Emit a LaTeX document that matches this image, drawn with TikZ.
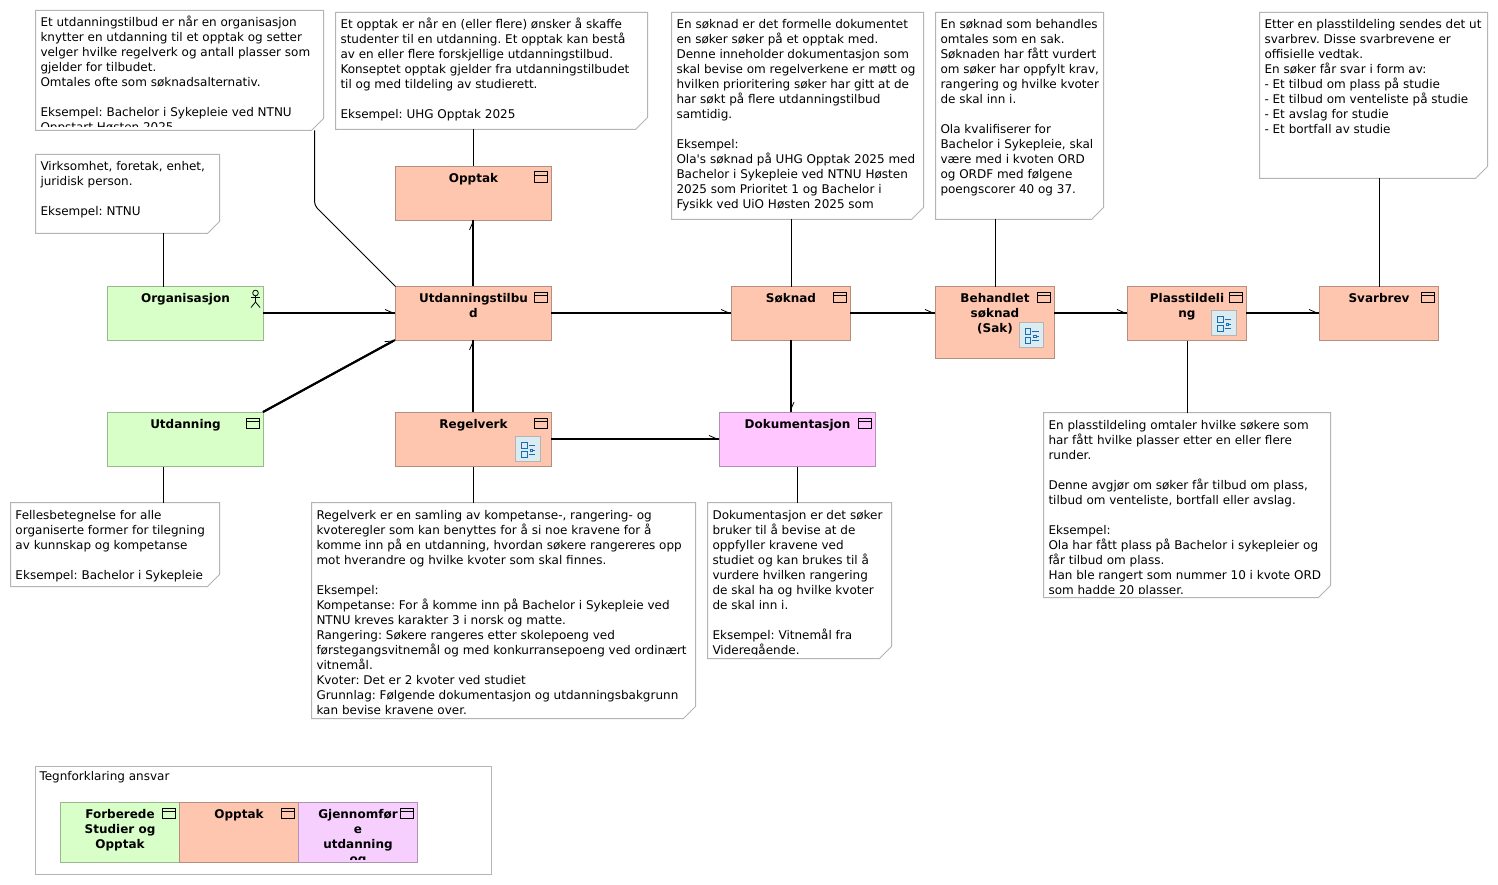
\documentclass[tikz,border=0pt]{standalone}
\usepackage{fontspec}
\setmainfont{DejaVu Sans}
\usepackage{tikz}
\usetikzlibrary{arrows.meta}
\definecolor{opptakfill}{HTML}{FFC6AF}
\definecolor{opptakline}{HTML}{B58E80}
\definecolor{forbfill}{HTML}{D9FFC9}
\definecolor{forbline}{HTML}{9AB78F}
\definecolor{dokfill}{HTML}{FFC6FF}
\definecolor{dokline}{HTML}{B58EB5}
\definecolor{gjenfill}{HTML}{F7CFFF}
\definecolor{gjenline}{HTML}{AE93B5}
\definecolor{notegray}{HTML}{B4B4B4}
\definecolor{iconfill}{HTML}{DCEBEF}
\definecolor{iconblue}{HTML}{1170B8}

% name, left, top, right, bottom, text
\newcommand{\notebox}[6]{
  \node[notearea, minimum width={(#4-#2)*1pt}, minimum height={(#5-#3)*1pt}] (#1) at ({(#2+#4)/2},{(#3+#5)/2}) {};
  \draw[noteline] (#2,#3) -- (#4,#3) -- (#4,#5-12) -- (#4-12,#5) -- (#2,#5) -- cycle;
  \begin{scope}
    \clip (#2,#3) rectangle (#4,#5-4);
    \node[notetext] at (#2+4.5,#3+4) {\rule{0pt}{12pt}#6};
  \end{scope}
}
% name, style, left, top, right, bottom, text
\newcommand{\elementbox}[7]{
  \node[#2, minimum width={(#5-#3)*1pt}, minimum height={(#6-#4)*1pt}] (#1) at ({(#3+#5)/2},{(#4+#6)/2}) {};
  \begin{scope}
    \clip (#3,#4) rectangle (#5,#6-3);
    \node[elemtext] at ({(#3+#5)/2},#4+3.5) {\rule{0pt}{12pt}#7};
  \end{scope}
}

\begin{document}
\frenchspacing
\begin{tikzpicture}[x=1pt, y=-1pt, line width=1pt,
    notearea/.style = {inner sep=0pt, outer sep=0pt},
    noteline/.style = {draw=notegray, fill=white},
    notetext/.style = {anchor=north west, inner sep=0pt, align=left, font=\fontsize{12}{15}\selectfont},
    elemtext/.style = {anchor=north, inner sep=0pt, align=center, font=\fontsize{12}{15}\selectfont\bfseries},
    opptak/.style = {draw=opptakline, fill=opptakfill, inner sep=0pt, outer sep=0pt},
    forb/.style = {draw=forbline, fill=forbfill, inner sep=0pt, outer sep=0pt},
    dok/.style = {draw=dokline, fill=dokfill, inner sep=0pt, outer sep=0pt},
    gjen/.style = {draw=gjenline, fill=gjenfill, inner sep=0pt, outer sep=0pt},
    flow/.style = {line width=2pt, transform canvas={shift={(-.5pt,.5pt)}}, -{Straight Barb[harpoon, length=8pt, width=7pt, line width=.8pt]}, postaction={draw, -}},
    link/.style = {line width=1pt},
    windowicon/.pic = {
      \draw[line width=1pt] (-17.5,5.5) rectangle (-4,16);
      \draw[line width=1pt] (-17.5,8.8) -- (-4,8.8);
    },
    actoricon/.pic = {
      \draw[line width=.8pt] (-8,6.5) circle (2.8);
      \draw[line width=.8pt] (-8,9.3) -- (-8,15.5) -- (-12.5,21);
      \draw[line width=.8pt] (-8,15.5) -- (-3.5,21);
      \draw[line width=.8pt] (-12.5,11) -- (-3.5,11);
    },
    detailicon/.pic = {
      \draw[draw=notegray, fill=iconfill] (0,0) rectangle (24.5,24.5);
      \draw[draw=iconblue, line width=.8pt] (6,6) rectangle (11.5,11.5) (6,15) rectangle (11.5,20.5);
      \draw[draw=iconblue, line width=.8pt] (13,9) -- (19.5,9) (13,18) -- (19.5,18);
      \draw[draw=iconblue, line width=.8pt] (14.5,12.5) rectangle (17,15) (17,13.7) -- (19.5,13.7);
    }]
  \useasboundingbox (0,0) rectangle (1498,885);
  \fill[white] (0,0) rectangle (1498,885);

  \begin{scope}[shift={(.5,.5)}]
  \elementbox{organisasjon}{forb}{107}{286}{263}{340}{Organisasjon}
  \elementbox{utdanning}{forb}{107}{412}{263}{466}{Utdanning}
  \elementbox{opptak}{opptak}{395}{166}{551}{220}{Opptak}
  \elementbox{tilbud}{opptak}{395}{286}{551}{340}{Utdanningstilbu\\d}
  \elementbox{regelverk}{opptak}{395}{412}{551}{466}{Regelverk}
  \elementbox{soknad}{opptak}{731}{286}{850}{340}{Søknad}
  \elementbox{dokumentasjon}{dok}{719}{412}{875}{466}{Dokumentasjon}
  \elementbox{behandlet}{opptak}{935}{286}{1054}{358}{Behandlet\\søknad\\(Sak)}
  \elementbox{plass}{opptak}{1127}{286}{1246}{340}{Plasstildeli\\ng}
  \elementbox{svarbrev}{opptak}{1319}{286}{1438}{340}{Svarbrev}

  \path (263,286) pic {actoricon};
  \path (263,412) pic {windowicon};
  \path (551,166) pic {windowicon};
  \path (551,286) pic {windowicon};
  \path (551,412) pic {windowicon};
  \path (850,286) pic {windowicon};
  \path (875,412) pic {windowicon};
  \path (1054,286) pic {windowicon};
  \path (1246,286) pic {windowicon};
  \path (1438,286) pic {windowicon};
  \path (515,436) pic {detailicon};
  \path (1018.5,322) pic {detailicon};
  \path (1211,310) pic {detailicon};

  \notebox{noteTilbud}{35}{10}{323}{130}{Et utdanningstilbud er når en organisasjon\\knytter en utdanning til et opptak og setter\\velger hvilke regelverk og antall plasser som\\gjelder for tilbudet.\\Omtales ofte som søknadsalternativ.\\[15pt]Eksempel: Bachelor i Sykepleie ved NTNU\\Oppstart Høsten 2025}
  \notebox{noteOrg}{35}{154}{219}{233}{Virksomhet, foretak, enhet,\\juridisk person.\\[15pt]Eksempel: NTNU}
  \notebox{noteOpptak}{335}{12}{647}{129}{Et opptak er når en (eller flere) ønsker å skaffe\\studenter til en utdanning. Et opptak kan bestå\\av en eller flere forskjellige utdanningstilbud.\\Konseptet opptak gjelder fra utdanningstilbudet\\til og med tildeling av studierett.\\[15pt]Eksempel: UHG Opptak 2025}
  \notebox{noteSoknad}{671}{12}{923}{219}{En søknad er det formelle dokumentet\\en søker søker på et opptak med.\\Denne inneholder dokumentasjon som\\skal bevise om regelverkene er møtt og\\hvilken prioritering søker har gitt at de\\har søkt på flere utdanningstilbud\\samtidig.\\[15pt]Eksempel:\\Ola\textquotesingle s søknad på UHG Opptak 2025 med\\Bachelor i Sykepleie ved NTNU Høsten\\2025 som Prioritet 1 og Bachelor i\\Fysikk ved UiO Høsten 2025 som}
  \notebox{noteBehandlet}{935}{12}{1103}{219}{En søknad som behandles\\omtales som en sak.\\Søknaden har fått vurdert\\om søker har oppfylt krav,\\rangering og hvilke kvoter\\de skal inn i.\\[15pt]Ola kvalifiserer for\\Bachelor i Sykepleie, skal\\være med i kvoten ORD\\og ORDF med følgene\\poengscorer 40 og 37.}
  \notebox{noteSvar}{1259}{12}{1487}{178}{Etter en plasstildeling sendes det ut\\svarbrev. Disse svarbrevene er\\offisielle vedtak.\\En søker får svar i form av:\\- Et tilbud om plass på studie\\- Et tilbud om venteliste på studie\\- Et avslag for studie\\- Et bortfall av studie}
  \notebox{noteUtdanning}{10}{502}{219}{586}{Fellesbetegnelse for alle\\organiserte former for tilegning\\av kunnskap og kompetanse\\[15pt]Eksempel: Bachelor i Sykepleie}
  \notebox{noteRegelverk}{311}{502}{695}{718}{Regelverk er en samling av kompetanse-, rangering- og\\kvoteregler som kan benyttes for å si noe kravene for å\\komme inn på en utdanning, hvordan søkere rangereres opp\\mot hverandre og hvilke kvoter som skal finnes.\\[15pt]Eksempel:\\Kompetanse: For å komme inn på Bachelor i Sykepleie ved\\NTNU kreves karakter 3 i norsk og matte.\\Rangering: Søkere rangeres etter skolepoeng ved\\førstegangsvitnemål og med konkurransepoeng ved ordinært\\vitnemål.\\Kvoter: Det er 2 kvoter ved studiet\\Grunnlag: Følgende dokumentasjon og utdanningsbakgrunn\\kan bevise kravene over.}
  \notebox{noteDok}{707}{502}{891}{658}{Dokumentasjon er det søker\\bruker til å bevise at de\\oppfyller kravene ved\\studiet og kan brukes til å\\vurdere hvilken rangering\\de skal ha og hvilke kvoter\\de skal inn i.\\[15pt]Eksempel: Vitnemål fra\\Videregående.}
  \notebox{notePlass}{1043}{412}{1330}{597}{En plasstildeling omtaler hvilke søkere som\\har fått hvilke plasser etter en eller flere\\runder.\\[15pt]Denne avgjør om søker får tilbud om plass,\\tilbud om venteliste, bortfall eller avslag.\\[15pt]Eksempel:\\Ola har fått plass på Bachelor i sykepleier og\\får tilbud om plass.\\Han ble rangert som nummer 10 i kvote ORD\\som hadde 20 plasser.}

  % flows
  \draw[flow] (organisasjon) -- (tilbud);
  \draw[flow] (utdanning.north east) -- (tilbud.south west);
  \draw[flow] (regelverk) -- (tilbud);
  \draw[flow] (tilbud) -- (opptak);
  \draw[flow] (tilbud) -- (soknad);
  \draw[flow] (regelverk) -- (dokumentasjon);
  \draw[flow] (soknad) -- (soknad |- dokumentasjon.north);
  \draw[flow] (soknad.east) -- (soknad.east -| behandlet.west);
  \draw[flow] (soknad.east -| behandlet.east) -- (plass.west);
  \draw[flow] (plass) -- (svarbrev);

  % note links
  \coordinate (bendTilbud) at (314,205);
  \draw[link, rounded corners=4pt] ([xshift=135pt]noteTilbud.south) -- (bendTilbud) -- (tilbud.north west);
  \draw[link] ([xshift=36pt]noteOrg.south) -- ([xshift=-22pt]organisasjon.north);
  \draw[link] (noteOpptak.south -| opptak) -- (opptak);
  \draw[link] (noteSoknad.south -| soknad) -- (soknad);
  \draw[link] (noteBehandlet.south -| behandlet) -- (behandlet);
  \draw[link] (noteSvar.south -| svarbrev) -- (svarbrev);
  \draw[link] ([xshift=48.5pt]noteUtdanning.north) -- ([xshift=-22pt]utdanning.south);
  \draw[link] (noteRegelverk.north -| regelverk) -- (regelverk);
  \draw[link] (noteDok.north -| dokumentasjon) -- (dokumentasjon);
  \draw[link] (notePlass.north -| plass) -- (plass);

  % legend
  \node[notearea, draw=notegray, minimum width=456pt, minimum height=108pt] (legend) at (263,820) {};
  \node[notetext] (legendTitle) at (38.5,770) {Tegnforklaring ansvar};
  \elementbox{legendForb}{forb}{60}{802}{179}{862}{Forberede\\Studier og\\Opptak}
  \elementbox{legendOpptak}{opptak}{179}{802}{298}{862}{Opptak}
  \elementbox{legendGjen}{gjen}{298}{802}{417}{862}{Gjennomfør\\e\\utdanning\\og}
  \path (179,802) pic {windowicon};
  \path (298,802) pic {windowicon};
  \path (417,802) pic {windowicon};
  \end{scope}
\end{tikzpicture}
\end{document}
